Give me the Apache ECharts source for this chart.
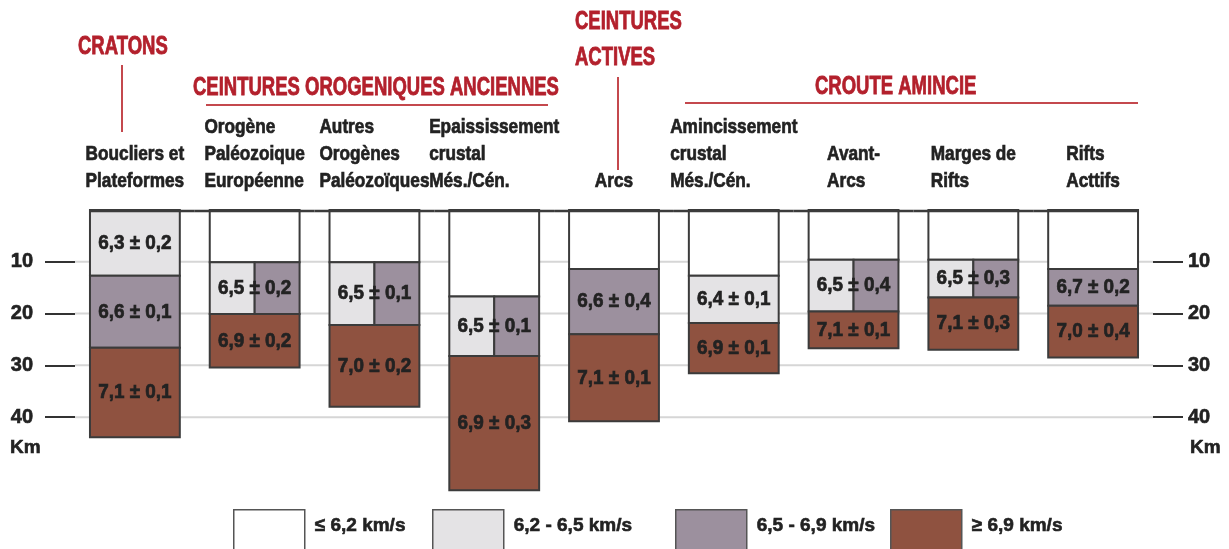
<!DOCTYPE html>
<html lang="fr">
<head>
<meta charset="utf-8">
<title>Vitesses sismiques de la croûte</title>
<script src="https://cdn.jsdelivr.net/npm/echarts@6.0.0/dist/echarts.min.js"></script>
<style>
  html, body { margin: 0; padding: 0; background: #fff; }
  #chart { width: 1229px; height: 549px; }
</style>
</head>
<body>
<div id="chart"></div>
<script>
// columns, left to right
const categories = [
  'Boucliers et\nPlateformes',
  'Orogène\nPaléozoique\nEuropéenne',
  'Autres\nOrogènes\nPaléozoïques',
  'Epaississement\ncrustal\nMés./Cén.',
  'Arcs',
  'Amincissement\ncrustal\nMés./Cén.',
  'Avant-\nArcs',
  'Marges de\nRifts',
  'Rifts\nActtifs'
]

const velocityClasses = ['≤ 6,2 km/s', '6,2 - 6,5 km/s', '6,5 - 6,9 km/s', '≥ 6,9 km/s']

// layers: [column, top (km), bottom (km), part] part: 0 whole width, -1 left half, 1 right half
const layersUnder62 = [
  [1, 0, 10.1, 0], [2, 0, 10.1, 0], [3, 0, 16.7, 0], [4, 0, 11.4, 0],
  [5, 0, 12.7, 0], [6, 0, 9.6, 0], [7, 0, 9.6, 0], [8, 0, 11.4, 0]
]
const layers62to65 = [
  [0, 0, 12.7, 0], [1, 10.1, 20.1, -1], [2, 10.1, 22.2, -1], [3, 16.7, 28.2, -1],
  [5, 12.7, 21.8, 0], [6, 9.6, 19.6, -1], [7, 9.6, 16.9, -1]
]
const layers65to69 = [
  [0, 12.7, 26.6, 0], [1, 10.1, 20.1, 1], [2, 10.1, 22.2, 1], [3, 16.7, 28.2, 1],
  [4, 11.4, 24.0, 0], [6, 9.6, 19.6, 1], [7, 9.6, 16.9, 1], [8, 11.4, 18.5, 0]
]
const layersOver69 = [
  [0, 26.6, 43.9, 0], [1, 20.1, 30.4, 0], [2, 22.2, 38.0, 0], [3, 28.2, 54.1, 0],
  [4, 24.0, 40.8, 0], [5, 21.8, 31.5, 0], [6, 19.6, 26.7, 0], [7, 16.9, 27.0, 0], [8, 18.5, 28.5, 0]
]

// mean velocity written in each layer: [column, top, bottom]
const labelLayers = [
  [0, 0, 12.7], [0, 12.7, 26.6], [0, 26.6, 43.9],
  [1, 10.1, 20.1], [1, 20.1, 30.4],
  [2, 10.1, 22.2], [2, 22.2, 38.0],
  [3, 16.7, 28.2], [3, 28.2, 54.1],
  [4, 11.4, 24.0], [4, 24.0, 40.8],
  [5, 12.7, 21.8], [5, 21.8, 31.5],
  [6, 9.6, 19.6], [6, 19.6, 26.7],
  [7, 9.6, 16.9], [7, 16.9, 27.0],
  [8, 11.4, 18.5], [8, 18.5, 28.5]
]
const layerLabels = [
  '6,3 ± 0,2', '6,6 ± 0,1', '7,1 ± 0,1',
  '6,5 ± 0,2', '6,9 ± 0,2',
  '6,5 ± 0,1', '7,0 ± 0,2',
  '6,5 ± 0,1', '6,9 ± 0,3',
  '6,6 ± 0,4', '7,1 ± 0,1',
  '6,4 ± 0,1', '6,9 ± 0,1',
  '6,5 ± 0,4', '7,1 ± 0,1',
  '6,5 ± 0,3', '7,1 ± 0,3',
  '6,7 ± 0,2', '7,0 ± 0,4'
]

const depthTicks = [10, 20, 30, 40]

const FONT = '"Liberation Sans", Arial, sans-serif'
const RED = '#b3202c'
const RED_LINE = '#c4484d'
const BORDER = '#3b3b3b'
const TEXT = '#222'
const classColors = ['#ffffff', '#e4e3e5', '#9c909e', '#8f5240']
const BOX_RATIO = 0.75
// no condensed font installed: squeeze text horizontally, thicken with a thin outline
const NARROW = 0.82

const measureCtx = document.createElement('canvas').getContext('2d')
const textWidth = (txt, font) => {
  measureCtx.font = font
  return Math.max(...txt.split('\n').map(l => measureCtx.measureText(l).width))
}

const renderLayer = (params, api) => {
  const col = api.value(0)
  const p0 = api.coord([col, api.value(1)])
  const p1 = api.coord([col, api.value(2)])
  const w = api.size([1, 0])[0] * BOX_RATIO
  const part = api.value(3)
  let x = p0[0] - w / 2
  let width = w
  if (part === -1) width = w / 2
  if (part === 1) { x = p0[0]; width = w / 2 }
  return {
    type: 'rect',
    shape: { x, y: p0[1], width, height: p1[1] - p0[1] },
    style: { fill: api.visual('color'), stroke: BORDER, lineWidth: 2 }
  }
}

const renderLabel = (params, api) => {
  const col = api.value(0)
  const p0 = api.coord([col, api.value(1)])
  const p1 = api.coord([col, api.value(2)])
  return {
    type: 'text',
    x: p0[0],
    y: (p0[1] + p1[1]) / 2,
    scaleX: 0.9,
    style: {
      text: layerLabels[params.dataIndex],
      x: 0, y: 0,
      align: 'center', verticalAlign: 'middle',
      font: `bold 21px ${FONT}`, fill: TEXT,
      stroke: TEXT, lineWidth: 0.7
    }
  }
}

const catFont = `bold 21px ${FONT}`
const renderCategory = (params, api) => {
  const col = api.value(0)
  const p = api.coord([col, 0])
  const band = api.size([1, 0])[0]
  const w = band * BOX_RATIO
  const txt = categories[col]
  const tw = textWidth(txt, catFont) * NARROW
  // top line joining the columns
  let x1 = p[0] - band / 2
  let x2 = p[0] + band / 2
  if (col === 0) x1 = p[0] - w / 2
  if (col === categories.length - 1) x2 = p[0] + w / 2
  return {
    type: 'group',
    children: [
      { type: 'line', shape: { x1, y1: p[1] + 1, x2, y2: p[1] + 1 }, style: { stroke: BORDER, lineWidth: 2.5 } },
      {
        type: 'text',
        x: p[0] - tw / 2,
        y: p[1] - 15,
        scaleX: NARROW,
        style: {
          text: txt, x: 0, y: 0,
          align: 'left', verticalAlign: 'bottom', lineHeight: 27,
          font: catFont, fill: TEXT, stroke: TEXT, lineWidth: 0.7
        }
      }
    ]
  }
}

const renderGridLine = (params, api) => {
  const cs = params.coordSys
  const p = api.coord([0, api.value(1)])
  return {
    type: 'line',
    shape: { x1: cs.x, y1: p[1], x2: cs.x + cs.width, y2: p[1] },
    style: { stroke: '#d6d6d6', lineWidth: 2 }
  }
}

const header = (text, x, cy) => ({
  type: 'text', x, y: cy, scaleX: 0.74,
  style: {
    text, x: 0, y: 0, align: 'left', verticalAlign: 'middle',
    font: `bold 25px ${FONT}`, fill: RED, stroke: RED, lineWidth: 0.8
  }
})

const chart = echarts.init(document.getElementById('chart'))

const layerSets = [layersUnder62, layers62to65, layers65to69, layersOver69]
const legendLefts = [233, 432, 675, 890]

const yAxisBase = {
  type: 'value',
  inverse: true,
  min: 0,
  max: 56,
  splitLine: { show: false },
  axisLine: { show: false },
  axisTick: { show: true, customValues: depthTicks, length: 30, lineStyle: { color: '#333', width: 2 } },
  axisLabel: {
    customValues: depthTicks,
    formatter: v => depthTicks.includes(v) ? String(v) : '',
    color: TEXT, fontSize: 20, fontWeight: 'bold', fontFamily: FONT,
    textBorderColor: TEXT, textBorderWidth: 0.6
  }
}

const legendText = {
  color: TEXT, fontSize: 19, fontWeight: 'bold', fontFamily: FONT,
  textBorderColor: TEXT, textBorderWidth: 0.6
}

const option = {
  backgroundColor: '#ffffff',
  animation: false,
  grid: { left: 75, right: 76, top: 210, bottom: 49 },
  xAxis: {
    type: 'category',
    data: categories,
    position: 'top',
    axisLine: { show: false },
    axisTick: { show: false },
    axisLabel: { show: false },
    splitLine: { show: false }
  },
  yAxis: [
    { ...yAxisBase, position: 'left', axisLabel: { ...yAxisBase.axisLabel, margin: 42 } },
    { ...yAxisBase, position: 'right', axisLabel: { ...yAxisBase.axisLabel, margin: 35 } }
  ],
  legend: velocityClasses.map((name, i) => ({
    data: [name],
    left: legendLefts[i],
    top: 509,
    padding: 0,
    icon: 'rect',
    itemWidth: 71,
    itemHeight: 44,
    selectedMode: false,
    itemStyle: { borderColor: '#555', borderWidth: 1.5 },
    formatter: n => `{t|${n}}`,
    textStyle: {
      ...legendText,
      rich: { t: { ...legendText, padding: [0, 0, 12, 5] } }
    }
  })),
  graphic: [
    header('CRATONS', 78, 47),
    { type: 'line', shape: { x1: 122, y1: 65, x2: 122, y2: 132 }, style: { stroke: RED_LINE, lineWidth: 2 } },
    header('CEINTURES OROGENIQUES ANCIENNES', 193, 88),
    { type: 'line', shape: { x1: 206, y1: 105, x2: 548, y2: 105 }, style: { stroke: RED_LINE, lineWidth: 2 } },
    header('CEINTURES', 575, 22),
    header('ACTIVES', 575, 58),
    { type: 'line', shape: { x1: 618, y1: 77, x2: 618, y2: 170 }, style: { stroke: RED_LINE, lineWidth: 2 } },
    header('CROUTE AMINCIE', 815, 87),
    { type: 'line', shape: { x1: 685, y1: 103, x2: 1138, y2: 103 }, style: { stroke: RED_LINE, lineWidth: 2 } },
    { type: 'text', x: 10, y: 448, style: { text: 'Km', x: 0, y: 0, verticalAlign: 'middle', font: `bold 19px ${FONT}`, fill: TEXT, stroke: TEXT, lineWidth: 0.6 } },
    { type: 'text', x: 1190, y: 448, style: { text: 'Km', x: 0, y: 0, verticalAlign: 'middle', font: `bold 19px ${FONT}`, fill: TEXT, stroke: TEXT, lineWidth: 0.6 } }
  ],
  series: [
    {
      name: 'grille',
      type: 'custom',
      z: 1,
      silent: true,
      clip: false,
      renderItem: renderGridLine,
      data: depthTicks.map(d => [0, d])
    },
    ...velocityClasses.map((name, i) => ({
      name,
      type: 'custom',
      z: 2,
      clip: false,
      itemStyle: { color: classColors[i], borderColor: BORDER, borderWidth: 1.5 },
      renderItem: renderLayer,
      data: layerSets[i]
    })),
    {
      name: 'vitesses',
      type: 'custom',
      z: 3,
      silent: true,
      clip: false,
      renderItem: renderLabel,
      data: labelLayers
    },
    {
      name: 'colonnes',
      type: 'custom',
      z: 4,
      silent: true,
      clip: false,
      renderItem: renderCategory,
      data: categories.map((c, i) => [i])
    }
  ]
}

chart.setOption(option)
window.addEventListener('resize', () => chart.resize())
</script>
</body>
</html>
